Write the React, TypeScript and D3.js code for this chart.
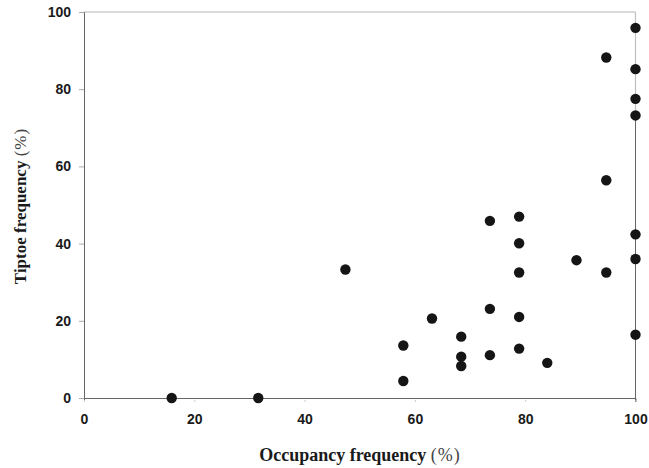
import * as d3 from "d3";
import {useEffect, useRef} from "react";

// occupancy frequency (%) and tiptoe frequency (%) per point
const occupancy = [15.9, 31.6, 47.4, 57.9, 57.9, 63.1, 68.4, 68.4, 68.4, 73.6, 73.6, 73.6,
  78.9, 78.9, 78.9, 78.9, 78.9, 84.0, 89.3, 94.7, 94.7, 94.7, 100, 100, 100, 100, 100, 100, 100];
const tiptoe = [0, 0, 33.3, 13.6, 4.4, 20.6, 15.9, 10.7, 8.3, 45.9, 23.1, 11.1,
  47.0, 40.1, 32.5, 21.0, 12.8, 9.1, 35.7, 88.2, 56.4, 32.5, 95.9, 85.2, 77.5, 73.2, 42.4, 36.0, 16.4];
const xTicks = [0, 20, 40, 60, 80, 100];
const yTicks = [0, 20, 40, 60, 80, 100];

export default function App() {
    const ref = useRef<SVGSVGElement>(null);

    useEffect(() => {
        const width = 649;
        const height = 468;
        const svg = d3.select(ref.current);
        svg.attr("width", width).attr("height", height);
        svg.selectAll("*").remove();

        const x = d3.scaleLinear().domain([0, 100]).range([84, 635.5]);
        const y = d3.scaleLinear().domain([0, 100]).range([398, 12]);

        // frame: top and right are lighter
        svg.append("line").attr("x1", x(0)).attr("x2", x(100)).attr("y1", y(100)).attr("y2", y(100))
            .attr("stroke", "#b5b5b5").attr("stroke-width", 1);
        svg.append("line").attr("x1", x(100)).attr("x2", x(100)).attr("y1", y(100)).attr("y2", y(73))
            .attr("stroke", "#c0c0c0").attr("stroke-width", 1.2);
        svg.append("line").attr("x1", x(100)).attr("x2", x(100)).attr("y1", y(73)).attr("y2", y(0) + 4)
            .attr("stroke", "#666").attr("stroke-width", 1);

        const tickFont = "'Liberation Sans', Arial, sans-serif";

        // left axis
        const yAxis = svg.append("g").attr("transform", `translate(${x(0)},0)`)
            .call(d3.axisLeft(y).tickValues(yTicks).tickSize(5).tickPadding(8));
        yAxis.select(".domain").attr("stroke", "#666");
        yAxis.selectAll(".tick line").attr("stroke", "#aaa");
        yAxis.selectAll("text").attr("font-family", tickFont).attr("font-weight", "bold")
            .attr("font-size", 14).attr("fill", "#1a1a1a");

        // bottom axis
        const xAxis = svg.append("g").attr("transform", `translate(0,${y(0)})`)
            .call(d3.axisBottom(x).tickValues(xTicks).tickSize(4).tickPadding(12));
        xAxis.select(".domain").attr("stroke", "#666");
        xAxis.selectAll(".tick line").attr("stroke", "#ccc").attr("y1", 2).attr("y2", 4);
        xAxis.selectAll("text").attr("font-family", tickFont).attr("font-weight", "bold")
            .attr("font-size", 14).attr("fill", "#1a1a1a");

        // points
        svg.append("g").selectAll("circle").data(occupancy).join("circle")
            .attr("cx", d => x(d)).attr("cy", (_, i) => y(tiptoe[i]))
            .attr("r", 5.2).attr("fill", "#151515");

        // axis titles
        const serif = "'Liberation Serif', 'Times New Roman', serif";
        const xt = svg.append("text").attr("x", 360).attr("y", 461).attr("text-anchor", "middle")
            .attr("font-family", serif).attr("font-size", 18).attr("fill", "#1a1a1a");
        xt.append("tspan").attr("font-weight", "bold").text("Occupancy frequency ");
        xt.append("tspan").attr("fill", "#444").attr("letter-spacing", 1).text("(%)");

        const yt = svg.append("text").attr("transform", `translate(26,206) rotate(-90)`).attr("text-anchor", "middle")
            .attr("font-family", serif).attr("font-size", 17).attr("fill", "#1a1a1a");
        yt.append("tspan").attr("font-weight", "bold").text("Tiptoe frequency ");
        yt.append("tspan").attr("fill", "#444").attr("letter-spacing", 1).text("(%)");
    }, []);

    return <svg ref={ref} style={{position: "absolute", left: 0, top: 0}}></svg>;
}
